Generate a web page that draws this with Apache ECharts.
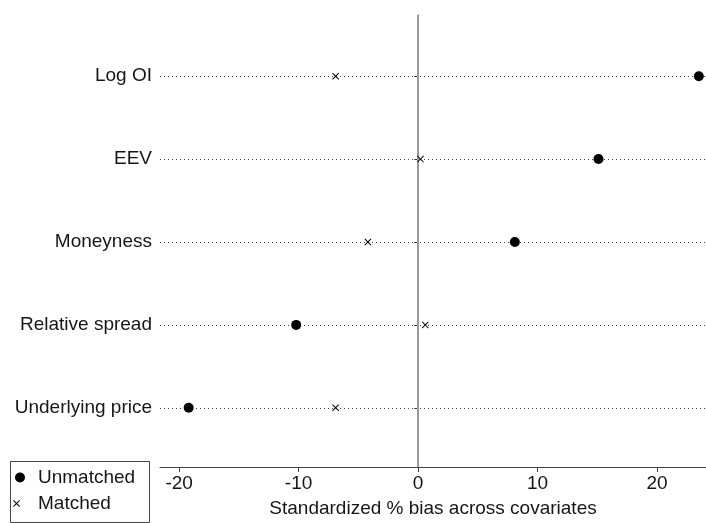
<!DOCTYPE html>
<html>
<head>
<meta charset="utf-8">
<script src="https://cdn.jsdelivr.net/npm/echarts@6/dist/echarts.min.js"></script>
<style>html,body{margin:0;padding:0;background:#fff}#c{width:706px;height:523px}</style>
</head>
<body>
<div id="c"></div>
<script>
var categories = ['Log OI', 'EEV', 'Moneyness', 'Relative spread', 'Underlying price'];
var unmatched = [23.5, 15.1, 8.1, -10.2, -19.2];
var matched = [-6.9, 0.2, -4.2, 0.6, -6.9];
var xTicks = [-20, -10, 0, 10, 20];

var FONT = '"Liberation Sans", Arial, Helvetica, sans-serif';
var TXT = '#161616';
var n = categories.length;
function yPos(i) { return n - i; }
var yTicks = categories.map(function (c, i) { return yPos(i); });

var chart = echarts.init(document.getElementById('c'), null, { renderer: 'canvas' });
var xPath = 'path://M1,0 L5,4 L9,0 L10,1 L6,5 L10,9 L9,10 L5,6 L1,10 L0,9 L4,5 L0,1 Z';

chart.setOption({
  animation: false,
  backgroundColor: '#fff',
  grid: { left: 160, right: 0, top: 15, bottom: 50 },
  xAxis: {
    type: 'value', min: -21.6, max: 24.1,
    axisLine: { show: true, lineStyle: { color: '#444', width: 1 } },
    axisTick: { show: true, length: 5, customValues: xTicks, lineStyle: { color: '#444' } },
    axisLabel: { customValues: xTicks, margin: 7, fontSize: 19, color: TXT, fontFamily: FONT },
    splitLine: { show: false },
    name: 'Standardized % bias across covariates',
    nameLocation: 'middle', nameGap: 32,
    nameTextStyle: { fontSize: 19, color: TXT, fontFamily: FONT }
  },
  yAxis: {
    type: 'value', min: 0.2857, max: 5.738,
    axisLine: { show: true, lineStyle: { color: '#444', width: 1 } },
    axisTick: { show: true, length: 4, customValues: yTicks, lineStyle: { color: '#444' } },
    axisLabel: {
      customValues: yTicks, margin: 8, fontSize: 19, color: TXT, fontFamily: FONT,
      formatter: function (v) { return categories[n - Math.round(v)]; }
    },
    splitLine: { show: false }
  },
  legend: [
    {
      orient: 'vertical', left: 15, top: 468, padding: 0,
      itemWidth: 10, itemHeight: 10,
      textStyle: { fontSize: 19, color: TXT, fontFamily: FONT, padding: [0, 0, 0, 8] },
      data: [{ name: 'Unmatched', icon: 'circle' }]
    },
    {
      orient: 'vertical', left: 13, top: 494, padding: 0,
      itemWidth: 7, itemHeight: 7,
      textStyle: { fontSize: 19, color: TXT, fontFamily: FONT, padding: [0, 0, 0, 13] },
      data: [{ name: 'Matched', icon: xPath }]
    }
  ],
  graphic: [{
    type: 'rect', left: 8, top: 459, z: 0,
    shape: { width: 139, height: 61 },
    style: { fill: 'none', stroke: '#444', lineWidth: 1 }
  }],
  series: [
    {
      name: 'Unmatched', type: 'scatter', z: 5,
      symbol: 'circle', symbolSize: 10,
      itemStyle: { color: '#000', opacity: 1 },
      data: unmatched.map(function (v, i) { return [v, yPos(i)]; }),
      markLine: {
        silent: true, symbol: 'none', z: 1, animation: false,
        label: { show: false },
        lineStyle: { color: '#444', type: [1, 3], width: 1 },
        data: yTicks.map(function (y) { return { yAxis: y }; })
      }
    },
    {
      name: 'Matched', type: 'scatter', z: 5,
      symbol: xPath, symbolSize: 7,
      itemStyle: { color: '#000', opacity: 1 },
      data: matched.map(function (v, i) { return [v, yPos(i)]; }),
      markLine: {
        silent: true, symbol: 'none', z: 2, animation: false,
        label: { show: false },
        lineStyle: { color: '#999', type: 'solid', width: 2 },
        data: [{ xAxis: 0 }]
      }
    }
  ]
});
</script>
</body>
</html>
